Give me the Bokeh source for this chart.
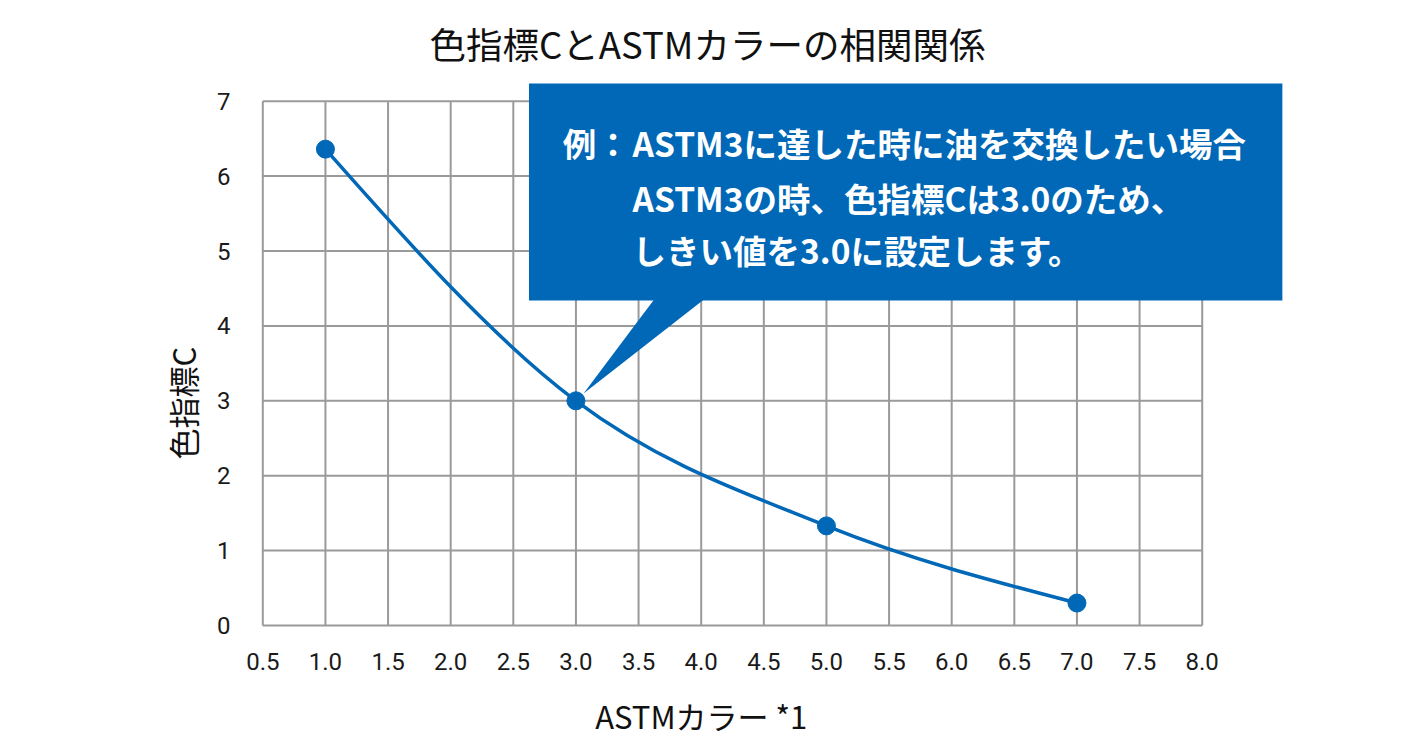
import math
from bokeh.plotting import figure
from bokeh.models import ColumnDataSource, FixedTicker, Range1d, Title, LinearAxis
from bokeh.core.properties import value
from bokeh.embed import file_html
from bokeh.resources import INLINE

# ---------------- data ----------------
astm = [1.0, 3.0, 5.0, 7.0]
color_index_c = [6.36, 3.0, 1.33, 0.30]

x_ticks = [0.5, 1.0, 1.5, 2.0, 2.5, 3.0, 3.5, 4.0, 4.5, 5.0, 5.5, 6.0, 6.5, 7.0, 7.5, 8.0]
x_tick_labels = ["0.5", "1.0", "1.5", "2.0", "2.5", "3.0", "3.5", "4.0",
                 "4.5", "5.0", "5.5", "6.0", "6.5", "7.0", "7.5", "8.0"]
y_ticks = [0, 1, 2, 3, 4, 5, 6, 7]
y_tick_labels = ["0", "1", "2", "3", "4", "5", "6", "7"]

title_text = "色指標CとASTMカラーの相関関係"
x_label_text = "ASTMカラー *1"
y_label_text = "色指標C"
callout_head = "例："
callout_lines = ["ASTM3に達した時に油を交換したい場合",
                 "ASTM3の時、色指標Cは3.0のため、",
                 "しきい値を3.0に設定します。"]
highlight_x = 3.0
highlight_y = 3.0

BLUE = "#0068b7"
GRID = "#9a9a9a"
JP = "Noto Sans CJK JP"

# ---------------- figure ----------------
p = figure(width=1410, height=740, output_backend="svg", toolbar_location=None,
           x_range=Range1d(0.4816, 8.657), y_range=Range1d(-0.0267, 8.3445),
           min_border_left=260, min_border_right=126,
           min_border_top=0, min_border_bottom=113,
           background_fill_color="white", border_fill_color="white")
p.outline_line_color = None
p.xgrid.visible = False
p.ygrid.visible = False

for ax in (p.xaxis, p.yaxis):
    ax.axis_line_color = None
    ax.major_tick_line_color = None
    ax.minor_tick_line_color = None
    ax.major_label_text_font = "Roboto"
    ax.major_label_text_font_size = "24px"
    ax.major_label_text_color = "#1a1a1a"

p.xaxis.ticker = FixedTicker(ticks=x_ticks)
p.xaxis.major_label_overrides = {t: l for t, l in zip(x_ticks, x_tick_labels)}
p.xaxis.major_label_standoff = 19
p.yaxis.ticker = FixedTicker(ticks=y_ticks)
p.yaxis.major_label_overrides = {t: l for t, l in zip(y_ticks, y_tick_labels)}
p.yaxis.major_label_standoff = 24

# x axis title: a second label-only axis below, centred at x = 4.0
x_title_pos = 4.0
xt = LinearAxis(ticker=FixedTicker(ticks=[x_title_pos]),
                major_label_overrides={x_title_pos: x_label_text},
                axis_line_color=None, major_tick_line_color=None,
                minor_tick_line_color=None, major_label_standoff=14,
                major_label_text_font=JP, major_label_text_font_size="31px",
                major_label_text_color="#111111")
p.add_layout(xt, "below")

# y axis title
p.add_layout(Title(text=y_label_text, align="left", offset=168, standoff=20,
                   text_font=JP, text_font_size="31px", text_font_style="normal",
                   text_color="#111111"), "left")

# ---------------- grid (limited to data area) ----------------
x_lo, x_hi = x_ticks[0], x_ticks[-1]
y_lo, y_hi = y_ticks[0], y_ticks[-1]
p.segment(x0=x_ticks, y0=[y_lo] * len(x_ticks), x1=x_ticks, y1=[y_hi] * len(x_ticks),
          line_color=GRID, line_width=2)
p.segment(x0=[x_lo] * len(y_ticks), y0=y_ticks, x1=[x_hi] * len(y_ticks), y1=y_ticks,
          line_color=GRID, line_width=2)

# ---------------- smooth (monotone) curve through the points ----------------
n = len(astm)
slopes = [(color_index_c[i + 1] - color_index_c[i]) / (astm[i + 1] - astm[i]) for i in range(n - 1)]
tang = [0.0] * n
for i in range(1, n - 1):
    s0, s1 = slopes[i - 1], slopes[i]
    if s0 * s1 <= 0:
        tang[i] = 0.0
    else:
        h0 = astm[i] - astm[i - 1]
        h1 = astm[i + 1] - astm[i]
        pp = (s0 * h1 + s1 * h0) / (h0 + h1)
        tang[i] = (math.copysign(1, s0) + math.copysign(1, s1)) * min(abs(s0), abs(s1), 0.5 * abs(pp))
tang[0] = (3 * slopes[0] - tang[1]) / 2
tang[-1] = (3 * slopes[-1] - tang[-2]) / 2

bx0, by0, bx1, by1, cx0, cy0, cx1, cy1 = [], [], [], [], [], [], [], []
for i in range(n - 1):
    h = astm[i + 1] - astm[i]
    bx0.append(astm[i]); by0.append(color_index_c[i])
    bx1.append(astm[i + 1]); by1.append(color_index_c[i + 1])
    cx0.append(astm[i] + h / 3); cy0.append(color_index_c[i] + tang[i] * h / 3)
    cx1.append(astm[i + 1] - h / 3); cy1.append(color_index_c[i + 1] - tang[i + 1] * h / 3)

p.bezier(x0=bx0, y0=by0, x1=bx1, y1=by1, cx0=cx0, cy0=cy0, cx1=cx1, cy1=cy1,
         line_color=BLUE, line_width=3.5)
p.scatter(x=astm, y=color_index_c, size=18, marker="circle",
          fill_color=BLUE, line_color=BLUE)

# ---------------- callout ----------------
box_left, box_right, box_top, box_bottom = 2.625, 8.64, 7.236, 4.339
p.quad(left=[box_left], right=[box_right], top=[box_top], bottom=[box_bottom],
       fill_color=BLUE, line_color=None)
p.patch(x=[3.627, 4.027, highlight_x + 0.061], y=[box_bottom + 0.02, box_bottom + 0.02, highlight_y + 0.097],
        fill_color=BLUE, line_color=None)

line_y = [6.449, 5.714, 5.02]
txt_src = ColumnDataSource(dict(x=[3.452] * 3, y=line_y, t=callout_lines))
p.text(x="x", y="y", text="t", source=txt_src, text_color="white",
       text_font=value(JP), text_font_style="bold", text_font_size="33.5px",
       text_align="left", text_baseline="middle")
p.text(x=[2.895], y=[line_y[0]], text=[callout_head], text_color="white",
       text_font=value(JP), text_font_style="bold", text_font_size="33.5px",
       text_align="left", text_baseline="middle")

# ---------------- chart title (inside the extended frame) ----------------
p.text(x=[4.05], y=[7.77], text=[title_text], text_color="#111111",
       text_font=value(JP), text_font_size="36.5px",
       text_align="center", text_baseline="middle")

open("out.html", "w").write(file_html(p, INLINE))
